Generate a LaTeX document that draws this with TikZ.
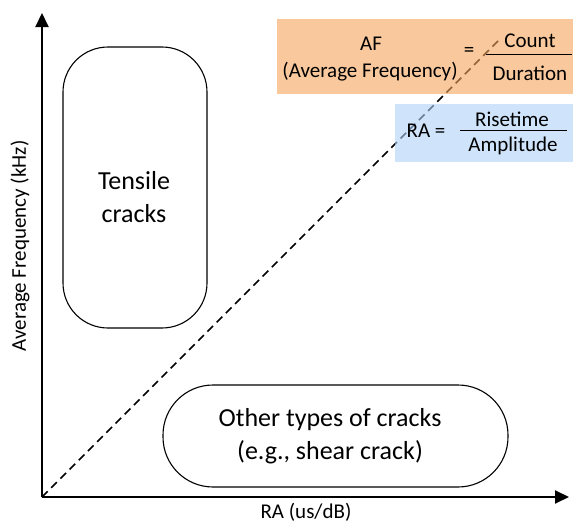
\documentclass[tikz,border=0pt]{standalone}
\usepackage{fontspec}
\setmainfont{Carlito}
\usepackage{tikz}
\usetikzlibrary{arrows.meta}
\definecolor{afcol}{RGB}{245,165,92}
\definecolor{racol}{RGB}{175,210,247}

\begin{document}
\begin{tikzpicture}[x=1pt, y=-1pt, >={Triangle[length=14pt,width=13pt]},
  crack/.style={draw, line width=1.1pt, rounded corners=#1},
  cracktext/.style={align=center, font=\fontsize{26}{33}\selectfont, inner sep=0pt},
  lbl/.style={font=\fontsize{21}{25}\selectfont, inner sep=0pt},
  formbox/.style={fill=#1, fill opacity=0.6, text opacity=1, inner sep=0pt}]
\useasboundingbox (0,0) rectangle (574,522);

\coordinate (o) at (42,497);
\coordinate (ytip) at (42,13);
\coordinate (xtip) at (569,497);
\coordinate (dtip) at (500,39);

\draw[dashed, line width=1.5pt, dash pattern=on 8pt off 5pt] (o) -- (dtip);

\node[formbox=afcol, minimum width=296pt, minimum height=75pt] (afbox) at (425,56.5) {};
\node[formbox=racol, minimum width=178pt, minimum height=58pt] (rabox) at (484,133) {};

\node[lbl, anchor=base] (af) at (371,50) {AF};
\node[lbl, anchor=base] (afname) at (370,77) {(Average Frequency)};
\node[lbl] (afeq) at (469,52) {=};
\node[lbl, anchor=base] (count) at (530,47) {Count};
\node[lbl, anchor=base] (dur) at (530,80) {Duration};
\draw[line width=1pt] (486,54) coordinate (afl) -- (572,54) coordinate (afr);

\node[lbl, anchor=base] (ra) at (426,137) {RA =};
\node[lbl, anchor=base] (rise) at (512,126) {Risetime};
\node[lbl, anchor=base] (amp) at (513,151) {Amplitude};
\draw[line width=1pt] (460,130) coordinate (ral) -- (567,130) coordinate (rar);

\node[crack=45pt, minimum width=144pt, minimum height=281pt] (tensile) at (135,187.5) {};
\node[cracktext] (tensiletxt) at (134,197) {Tensile\\cracks};
\node[crack=50pt, minimum width=345pt, minimum height=102pt] (other) at (335.5,436) {};
\node[cracktext] (othertxt) at (330,436) {Other types of cracks\\(e.g., shear crack)};

\draw[->, line width=2pt] (o) -- (ytip);
\draw[->, line width=2pt] (o) -- (xtip);

\node[lbl, rotate=90] (ylab) at (20,246) {Average Frequency (kHz)};
\node[lbl] (xlab) at (306,512) {RA (us/dB)};
\end{tikzpicture}
\end{document}
